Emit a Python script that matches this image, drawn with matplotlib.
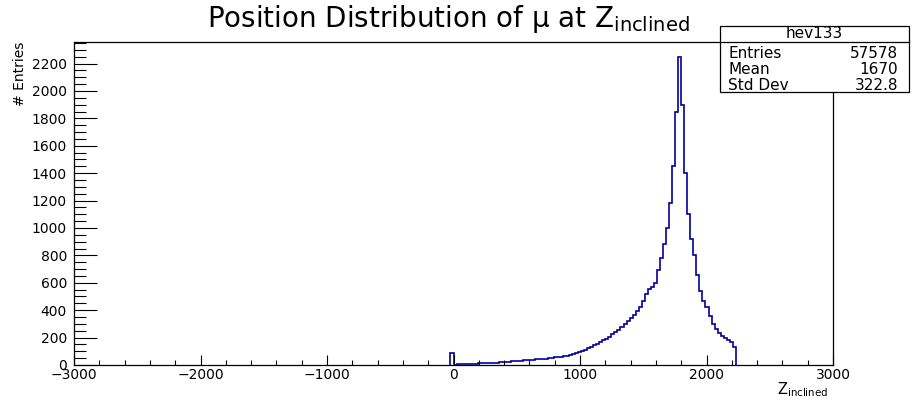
import numpy as np
import matplotlib
matplotlib.use('Agg')
import matplotlib.pyplot as plt
from matplotlib.patches import Rectangle
from matplotlib.ticker import MultipleLocator

plt.rcParams['font.family'] = ['DejaVu Sans']
plt.rcParams['mathtext.fontset'] = 'dejavusans'

# histogram: first bin is the small spike just left of 0
hist_start = -24
bin_width = 24
counts = [85,
          2, 4, 5, 6, 7, 7, 8, 10, 12, 13,
          14, 15, 17, 16, 18, 20, 22, 23, 25, 26,
          28, 30, 29, 33, 35, 37, 39, 41, 43, 45,
          47, 50, 53, 55, 58, 61, 64, 68, 72, 77,
          84, 92, 102, 110, 122, 133, 145, 156, 168, 180,
          192, 206, 224, 240, 258, 275, 296, 322, 342, 368,
          395, 425, 470, 520, 555, 572, 600, 690, 780, 880,
          1000, 1180, 1450, 1850, 2245, 1900, 1400, 1100, 920, 800,
          660, 540, 470, 420, 355, 300, 265, 235, 212, 198,
          185, 165, 130]

hist_name = 'hev133'
stat_names = ['Entries', 'Mean', 'Std Dev']
stat_values = ['57578', '1670', '322.8']

edges = hist_start + bin_width * np.arange(len(counts) + 1)

fig = plt.figure(figsize=(9.16, 4.0), dpi=100)
ax = fig.add_axes([74 / 916, 35 / 400, 759 / 916, 323 / 400])

ax.stairs(counts, edges, baseline=0, color='#000099', linewidth=1.2)

ax.set_xlim(-3000, 3000)
ax.set_ylim(0, 1.05 * max(counts))

ax.xaxis.set_major_locator(MultipleLocator(1000))
ax.xaxis.set_minor_locator(MultipleLocator(200))
ax.yaxis.set_major_locator(MultipleLocator(200))
ax.yaxis.set_minor_locator(MultipleLocator(50))

ax.tick_params(axis='x', which='major', direction='in', length=7.2, width=0.8,
               labelsize=10, pad=2, top=False)
ax.tick_params(axis='x', which='minor', direction='in', length=3.8, width=0.8, top=False)
ax.tick_params(axis='y', which='major', direction='in', length=16.5, width=0.8,
               labelsize=10, pad=5, right=False)
ax.tick_params(axis='y', which='minor', direction='in', length=8.3, width=0.8, right=False)

for s in ax.spines.values():
    s.set_linewidth(0.9)

# title, axis titles
fig.text(207 / 916, 1 - 27 / 400, r'Position Distribution of μ at Z$_{\rm inclined}$',
         fontsize=20, ha='left', va='baseline')
fig.text(828 / 916, 1 - 390 / 400, r'Z$_{\rm inclined}$', fontsize=10.5,
         ha='right', va='center')
fig.text(20 / 916, 1 - 42 / 400, '# Entries', fontsize=10, rotation=90,
         ha='center', va='top')

# stats box
bx0, bx1 = 720 / 916, 909 / 916
by0, by1 = 1 - 92 / 400, 1 - 26 / 400
hy = 1 - 42 / 400
fig.patches.append(Rectangle((bx0, by0), bx1 - bx0, by1 - by0, transform=fig.transFigure,
                             facecolor='white', edgecolor='black', linewidth=0.9, zorder=5))
fig.lines.append(plt.Line2D([bx0, bx1], [hy, hy], transform=fig.transFigure,
                            color='black', linewidth=0.9, zorder=6))
fig.text((bx0 + bx1) / 2, 1 - 34 / 400, hist_name, fontsize=11, ha='center', va='center', zorder=7)
row_y = [53, 70, 86]
for name, val, ry in zip(stat_names, stat_values, row_y):
    fig.text(728 / 916, 1 - ry / 400, name, fontsize=11, ha='left', va='center', zorder=7)
    fig.text(898 / 916, 1 - ry / 400, val, fontsize=11, ha='right', va='center', zorder=7)

fig.savefig('out.png', dpi=100)
